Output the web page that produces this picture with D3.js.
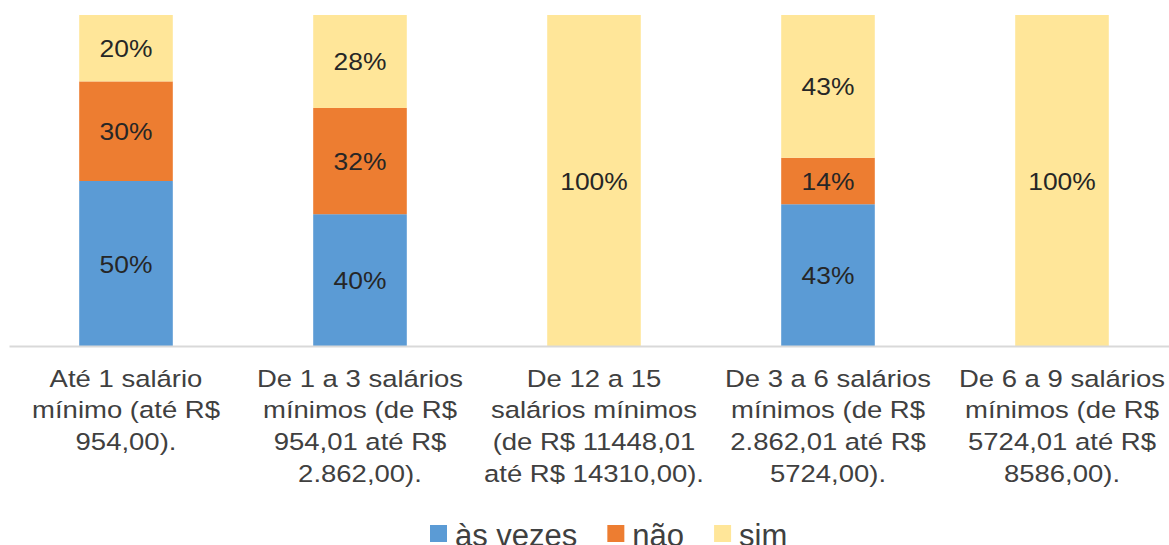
<!DOCTYPE html>
<html>
<head>
<meta charset="utf-8">
<script src="https://cdn.jsdelivr.net/npm/d3@7"></script>
<style>
  body { margin: 0; background: #fff; }
  svg { display: block; font-family: "Liberation Sans", Arial, sans-serif; }
</style>
</head>
<body>
<div id="chart"></div>
<script>
// categories (each label split into its lines)
var categories = [
  ["Até 1 salário", "mínimo (até R$", "954,00)."],
  ["De 1 a 3 salários", "mínimos (de R$", "954,01 até R$", "2.862,00)."],
  ["De 12 a 15", "salários mínimos", "(de R$ 11448,01", "até R$ 14310,00)."],
  ["De 3 a 6 salários", "mínimos (de R$", "2.862,01 até R$", "5724,00)."],
  ["De 6 a 9 salários", "mínimos (de R$", "5724,01 até R$", "8586,00)."]
];
var seriesNames = ["às vezes", "não", "sim"];
var asVezes = [0.50, 0.40, 0, 0.43, 0];
var nao     = [0.30, 0.32, 0, 0.14, 0];
var sim     = [0.20, 0.28, 1.00, 0.43, 1.00];
var colors  = ["#5B9BD5", "#ED7D31", "#FFE699"];

(function () {
    var width = 1169,
        height = 545;

    var svg = d3.select("#chart")
        .append("svg")
        .attr("width", width)
        .attr("height", height);

    var keys = categories.map(function (c) { return c.join(" "); });

    var rows = keys.map(function (k, i) {
        return { key: k, lines: categories[i], "às vezes": asVezes[i], "não": nao[i], "sim": sim[i] };
    });

    var x = d3.scaleBand()
        .domain(keys)
        .range([9, 1179])
        .paddingInner(0.6)
        .paddingOuter(0.3);

    var y = d3.scaleLinear()
        .domain([0, 1])
        .range([347, 15]);

    var color = d3.scaleOrdinal().domain(seriesNames).range(colors);

    var stacked = d3.stack().keys(seriesNames)(rows);

    // bars
    var layers = svg.selectAll(".layer")
        .data(stacked)
        .enter().append("g")
        .attr("class", "layer")
        .attr("fill", function (d) { return color(d.key); });

    layers.selectAll("rect")
        .data(function (d) { return d; })
        .enter().append("rect")
        .attr("x", function (d) { return x(d.data.key); })
        .attr("y", function (d) { return y(d[1]); })
        .attr("width", x.bandwidth())
        .attr("height", function (d) { return y(d[0]) - y(d[1]); });

    // value labels
    layers.selectAll("text")
        .data(function (d) { return d.filter(function (v) { return v[1] - v[0] > 0; }); })
        .enter().append("text")
        .attr("transform", function (d) {
            var cx = x(d.data.key) + x.bandwidth() / 2;
            var cy = (y(d[0]) + y(d[1])) / 2;
            return "translate(" + cx + "," + cy + ") scale(1.1,1)";
        })
        .attr("text-anchor", "middle")
        .attr("dy", "0.36em")
        .attr("fill", "#262626")
        .style("font-size", "24px")
        .text(function (d) { return Math.round((d[1] - d[0]) * 100) + "%"; });

    // x axis
    var xAxis = svg.append("g")
        .attr("transform", "translate(0," + 346 + ")")
        .call(d3.axisBottom(x).tickSize(0).tickSizeOuter(0));

    xAxis.select(".domain")
        .attr("stroke", "#D9D9D9")
        .attr("stroke-width", 2);

    xAxis.selectAll(".tick text").remove();

    xAxis.selectAll(".tick")
        .append("text")
        .attr("text-anchor", "middle")
        .attr("fill", "#404040")
        .attr("transform", "scale(1.17,1)")
        .style("font-size", "23.5px")
        .selectAll("tspan")
        .data(function (k) { return categories[keys.indexOf(k)]; })
        .enter().append("tspan")
        .attr("x", 0)
        .attr("y", function (d, i) { return 40.7 + i * 31.7; })
        .text(function (d) { return d; });

    // legend
    var legend = svg.append("g").attr("transform", "translate(430,0)");
    var lx = 0;
    seriesNames.forEach(function (name) {
        legend.append("rect")
            .attr("x", lx)
            .attr("y", 525)
            .attr("width", 17)
            .attr("height", 17)
            .attr("fill", color(name));
        var t = legend.append("text")
            .attr("x", lx + 25)
            .attr("y", 546)
            .attr("fill", "#404040")
            .style("font-size", "31px")
            .text(name);
        lx += 25 + t.node().getComputedTextLength() + 30;
    });
})();
</script>
</body>
</html>
